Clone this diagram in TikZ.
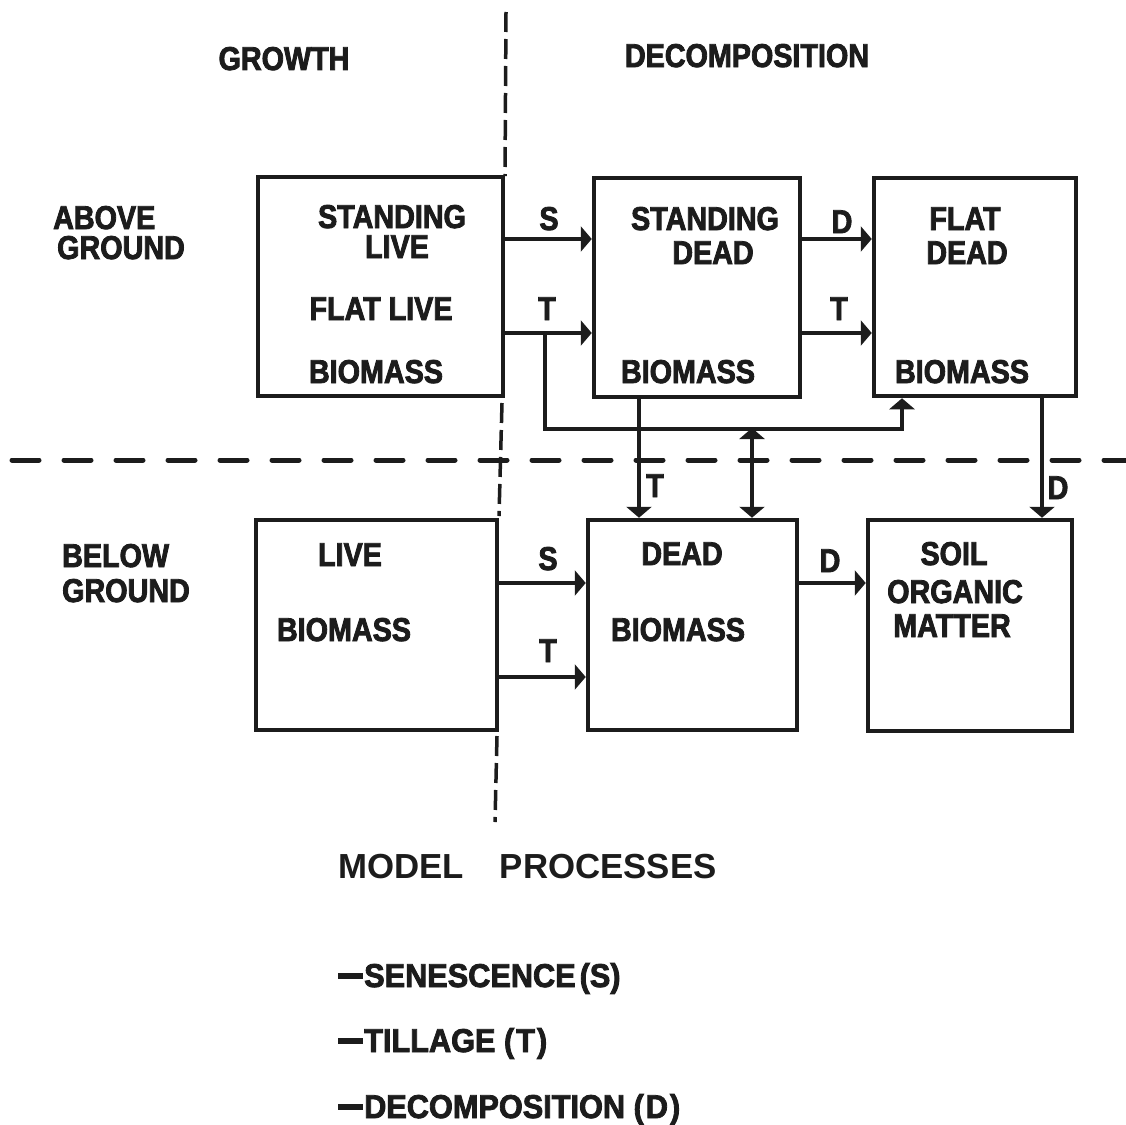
\documentclass[tikz,border=0pt]{standalone}
\usepackage{fontspec}
\newfontfamily\lett{Liberation Sans}[FakeStretch=0.87, BoldFeatures={FakeBold=2.5}]
\newfontfamily\legf{Liberation Sans}[FakeStretch=0.93, BoldFeatures={FakeBold=2.5}]
\newfontfamily\plainf{Liberation Sans}
\usetikzlibrary{arrows.meta}
\definecolor{inkc}{RGB}{28,28,28}
\newcommand{\lgdash}{\rule[8.5pt]{25pt}{5.5pt}\hspace{1pt}}
\tikzset{
  box/.style={draw=inkc, line width=4.5pt, rectangle, inner sep=0pt},
  lab/.style={font=\lett\bfseries\fontsize{33}{36}\selectfont, text=inkc, inner sep=0pt, anchor=base},
  labw/.style={lab, anchor=base west},
  leg/.style={font=\legf\bfseries\fontsize{33}{36}\selectfont, text=inkc, inner sep=0pt, anchor=base west},
  big/.style={font=\plainf\bfseries\fontsize{34.8}{38}\selectfont, text=inkc, inner sep=0pt, anchor=base west},
  con/.style={draw=inkc, line width=3.8pt},
  arr/.style={con, -{Triangle[length=11pt,width=25pt]}},
  arrtwo/.style={con, {Triangle[length=11pt,width=25pt]}-{Triangle[length=11pt,width=25pt]}},
  hdiv/.style={draw=inkc, line width=5pt, dash pattern=on 27pt off 25pt, line cap=round},
  vdiv/.style={draw=inkc, line width=3.5pt, dash pattern=on 20pt off 7pt}
}
\begin{document}
\begin{tikzpicture}[x=1pt,y=-1pt]
\fill[white] (0,0) rectangle (1126,1124);
\useasboundingbox (0,0) rectangle (1126,1124);

% boxes
\node[box, minimum width=245pt, minimum height=219pt] (sl) at (380.5,286.5) {};
\node[box, minimum width=206pt, minimum height=219pt] (sd) at (697,287.5) {};
\node[box, minimum width=202pt, minimum height=218pt] (fd) at (975,287) {};
\node[box, minimum width=241pt, minimum height=210pt] (lb) at (376.5,625) {};
\node[box, minimum width=209pt, minimum height=210pt] (db) at (692.5,625) {};
\node[box, minimum width=204pt, minimum height=211pt] (som) at (970,625.5) {};

% box texts
\node[lab] (sl1) at (392,228) {STANDING};
\node[lab] (sl2) at (397,258) {LIVE};
\node[lab] (sl3) at (381,320) {FLAT LIVE};
\node[lab] (sl4) at (376,383) {BIOMASS};
\node[lab] (sd1) at (705,230) {STANDING};
\node[lab] (sd2) at (713,264) {DEAD};
\node[lab] (sd3) at (688,383) {BIOMASS};
\node[lab] (fd1) at (965,230) {FLAT};
\node[lab] (fd2) at (967,264) {DEAD};
\node[lab] (fd3) at (962,383) {BIOMASS};
\node[lab] (lb1) at (350,566) {LIVE};
\node[lab] (lb2) at (344,641) {BIOMASS};
\node[lab] (db1) at (682,565) {DEAD};
\node[lab] (db2) at (678,641) {BIOMASS};
\node[lab] (so1) at (954,565) {SOIL};
\node[lab] (so2) at (955,603) {ORGANIC};
\node[lab] (so3) at (952,637) {MATTER};

% headings
\node[lab] (growth) at (284,70) {GROWTH};
\node[lab] (decomp) at (747,67) {DECOMPOSITION};
\node[labw] (ab1) at (53,229) {ABOVE};
\node[labw] (ab2) at (57,259) {GROUND};
\node[labw] (be1) at (62,567) {BELOW};
\node[labw] (be2) at (62,602) {GROUND};

% dividers
\draw[hdiv] (12,460) -- (1126,460);
\coordinate (va) at (506,12);
\coordinate (vb) at (505,176);
\coordinate (vc) at (502,403);
\coordinate (vd) at (499,516);
\coordinate (ve) at (497,736);
\coordinate (vf) at (495,822);
\draw[vdiv] (va) -- (vb);
\draw[vdiv] (vc) -- (vd);
\draw[vdiv] (ve) -- (vf);

% row coordinates
\coordinate (rS) at (0,239);
\coordinate (rT) at (0,333);
\coordinate (rH) at (0,429);
\coordinate (rS2) at (0,583);
\coordinate (rT2) at (0,677);
\coordinate (tb) at (545,333);
\coordinate (fup) at (902,0);
\coordinate (tx) at (639,0);
\coordinate (dx) at (752,0);
\coordinate (ddx) at (1042,0);

% connectors
\draw[arr] (sl.east |- rS) -- (sd.west |- rS);
\draw[arr] (sl.east |- rT) -- (sd.west |- rT);
\draw[arr] (tb) |- (fup |- rH) -- (fup |- fd.south);
\draw[arr] (sd.east |- rS) -- (fd.west |- rS);
\draw[arr] (sd.east |- rT) -- (fd.west |- rT);
\draw[arr] (tx |- sd.south) -- (tx |- db.north);
\draw[arrtwo] ([yshift=1pt]dx |- rH) -- (dx |- db.north);
\draw[arr] (ddx |- fd.south) -- (ddx |- som.north);
\draw[arr] (lb.east |- rS2) -- (db.west |- rS2);
\draw[arr] (lb.east |- rT2) -- (db.west |- rT2);
\draw[arr] (db.east |- rS2) -- (som.west |- rS2);

% connector labels
\node[lab] (ls1) at (549,230) {S};
\node[lab] (lt1) at (547,320) {T};
\node[lab] (ld1) at (842,233) {D};
\node[lab] (lt2) at (839,320) {T};
\node[lab] (lt3) at (655,497) {T};
\node[lab] (ld2) at (1058,499) {D};
\node[lab] (ls2) at (548,570) {S};
\node[lab] (lt4) at (548,662) {T};
\node[lab] (ld3) at (830,572) {D};

% legend
\node[big] (mp) at (338,878) {MODEL\hspace{36pt}PROCESSES};
\node[leg] (p1) at (338,987) {\lgdash SENESCENCE\hspace{4pt}(S)};
\node[leg] (p2) at (338,1052) {\lgdash TILLAGE (\hspace{2pt}T\hspace{2pt})};
\node[leg] (p3) at (338,1118) {\lgdash DECOMPOSITION (\hspace{2pt}D\hspace{2pt})};
\end{tikzpicture}
\end{document}
